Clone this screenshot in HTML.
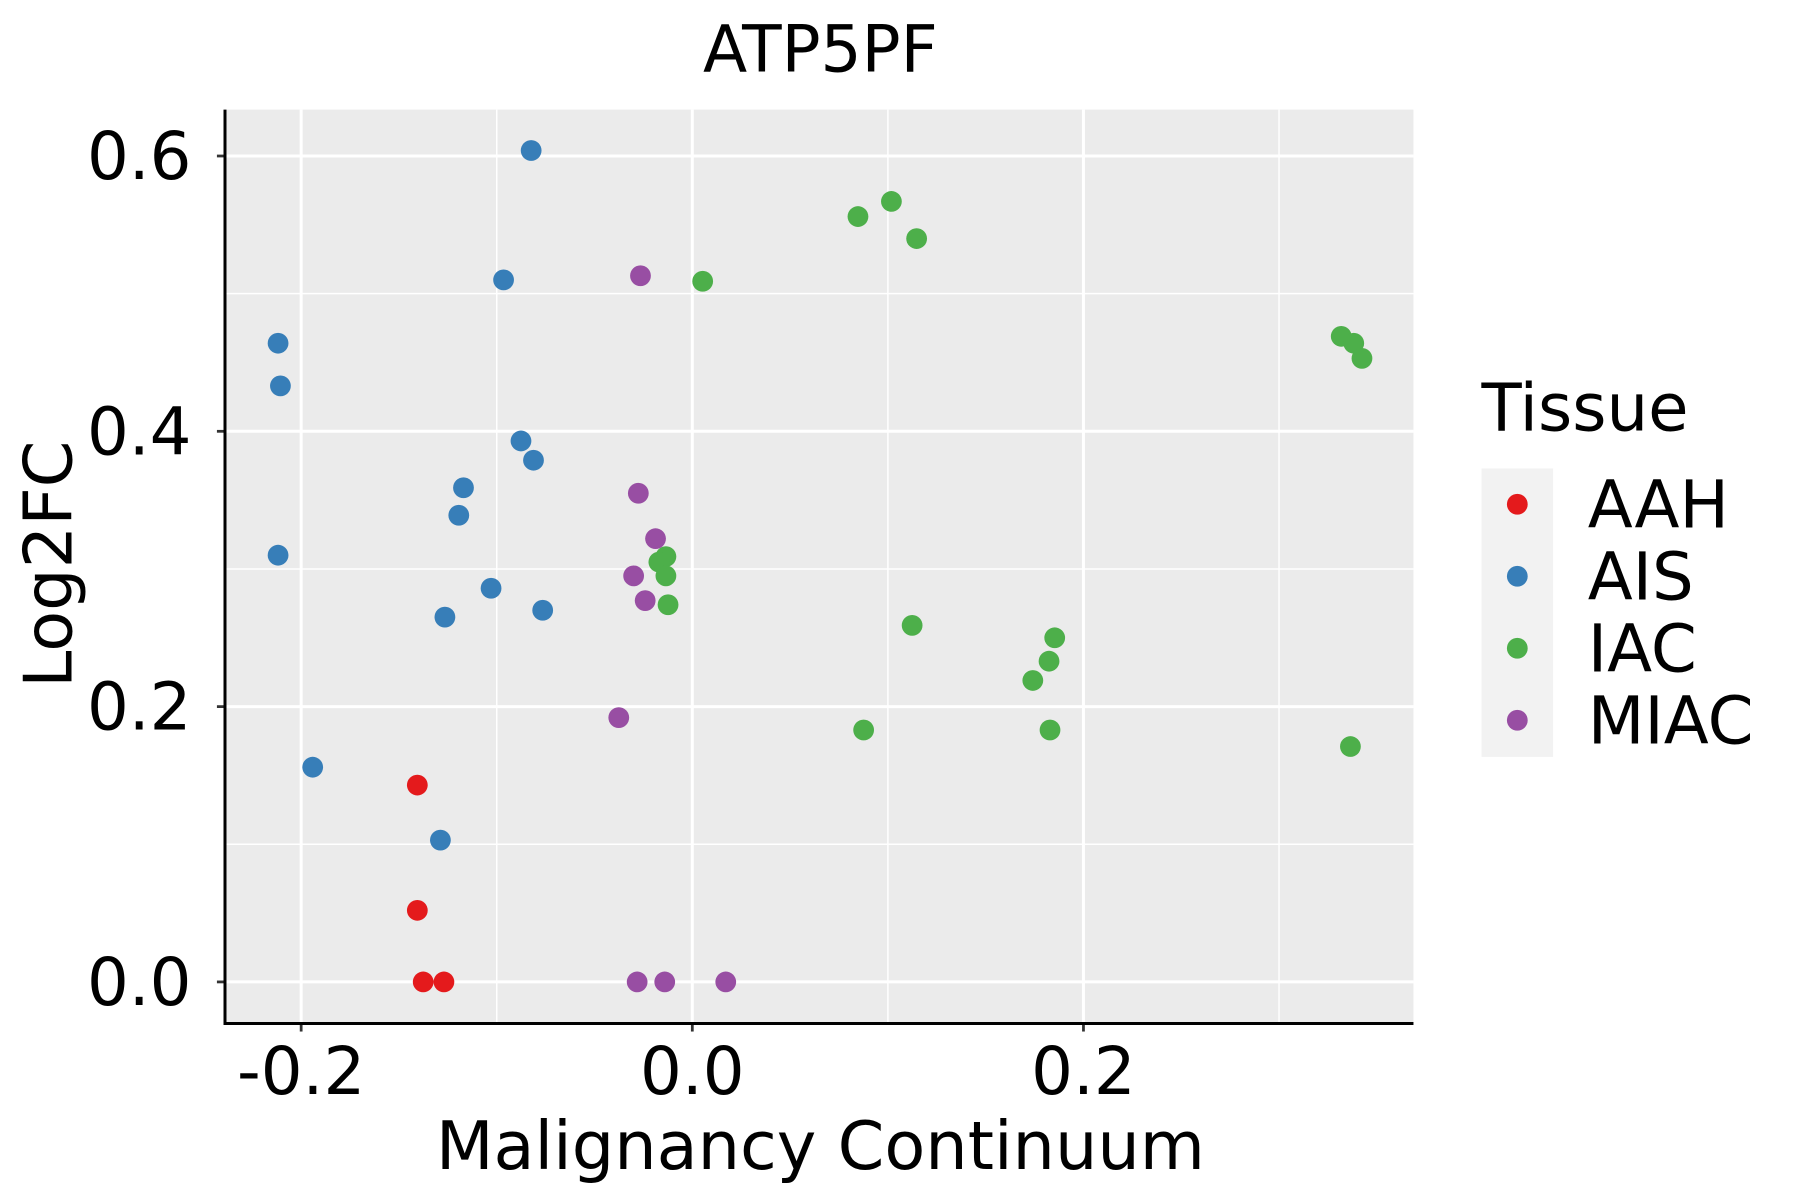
<!DOCTYPE html>
<html><head><meta charset="utf-8"><style>html,body{margin:0;padding:0;background:#fff}svg{display:block}text{font-family:"DejaVu Sans","Liberation Sans",sans-serif}</style></head>
<body>
<svg id="chart" width="1800" height="1200" viewBox="0 0 1560 1040" xmlns="http://www.w3.org/2000/svg">
<rect x="195" y="95" width="1030" height="792" fill="#ebebeb"/>
<g id="grid"></g><g id="pts"></g><g id="axes"></g>
<text x="711" y="62" font-size="56" text-anchor="middle">ATP5PF</text>
<text x="711" y="1013" font-size="58" text-anchor="middle">Malignancy Continuum</text>
<text transform="translate(62,489) rotate(-90)" font-size="58" text-anchor="middle">Log2FC</text>
<g>
<text x="1284" y="373" font-size="57">Tissue</text>
<rect x="1284" y="406" width="62" height="250" fill="#f2f2f2"/>
<g id="leg"></g></g>
</svg>
<script>
const groups=["AAH","AIS","IAC","MIAC"];
const colors=["#E41A1C","#377EB8","#4DAF4A","#984EA3"];
const aahX=[-0.1406,-0.1406,-0.1376,-0.127];
const aahY=[0.143,0.052,0,0];
const aisX=[-0.0824,-0.0965,-0.2118,-0.2106,-0.0876,-0.0812,-0.117,-0.1194,-0.2118,-0.1029,-0.1265,-0.0765,-0.1941,-0.1288];
const aisY=[0.604,0.510,0.464,0.433,0.393,0.379,0.359,0.339,0.310,0.286,0.265,0.270,0.156,0.103];
const iacX=[0.0847,0.1018,0.1147,0.0053,0.3318,0.3382,0.3424,-0.0135,-0.0171,-0.0135,-0.0124,0.1124,0.1853,0.1824,0.1741,0.0876,0.1829,0.3365];
const iacY=[0.556,0.567,0.540,0.509,0.469,0.464,0.453,0.309,0.305,0.295,0.274,0.259,0.250,0.233,0.219,0.183,0.183,0.171];
const miacX=[-0.0265,-0.0276,-0.0188,-0.03,-0.0241,-0.0376,-0.0282,-0.0141,0.0171];
const miacY=[0.513,0.355,0.322,0.295,0.277,0.192,0,0,0];
const xTicks=[-0.2,0.0,0.2];const xTickLabels=["-0.2","0.0","0.2"];
const yTicks=[0,0.2,0.4,0.6];const yTickLabels=["0.0","0.2","0.4","0.6"];
const xMinor=[-0.1,0.1,0.3];const yMinor=[0.1,0.3,0.5];
const NS="http://www.w3.org/2000/svg";
const sx=v=>600+v*1695, sy=v=>851-v*1193;
function mk(p,t,a){const e=document.createElementNS(NS,t);for(const k in a)e.setAttribute(k,a[k]);p.appendChild(e);return e;}
const grid=document.getElementById('grid'),axes=document.getElementById('axes'),pts=document.getElementById('pts'),leg=document.getElementById('leg');
xMinor.forEach(v=>{const l=mk(grid,'line',{x1:sx(v),x2:sx(v),y1:95,y2:887,stroke:'#fff','stroke-width':1.3});

});
yMinor.forEach(v=>{const l=mk(grid,'line',{x1:195,x2:1225,y1:sy(v),y2:sy(v),stroke:'#fff','stroke-width':1.3});

});
xTicks.forEach((v,i)=>{const l=mk(grid,'line',{x1:sx(v),x2:sx(v),y1:95,y2:887,stroke:'#fff','stroke-width':2.6});


const t=mk(axes,'line',{x1:sx(v),x2:sx(v),y1:887,y2:894,stroke:'#333','stroke-width':2.4});


const tx=mk(axes,'text',{x:sx(v),y:948,'font-size':57,'text-anchor':'middle',fill:'#000'});tx.textContent=xTickLabels[i];

});
yTicks.forEach((v,i)=>{const l=mk(grid,'line',{x1:195,x2:1225,y1:sy(v),y2:sy(v),stroke:'#fff','stroke-width':2.6});


const t=mk(axes,'line',{x1:188,x2:195,y1:sy(v),y2:sy(v),stroke:'#333','stroke-width':2.4});


const tx=mk(axes,'text',{x:166,y:sy(v)+20,'font-size':57,'text-anchor':'end',fill:'#000'});tx.textContent=yTickLabels[i];

});
const ax=mk(axes,'polyline',{points:'195,95 195,887 1225,887',fill:'none',stroke:'#000','stroke-width':2.6});


const series=[[aahX,aahY],[aisX,aisY],[iacX,iacY],[miacX,miacY]];
series.forEach((s,g)=>{s[0].forEach((x,i)=>{const c=mk(pts,'circle',{cx:sx(x),cy:sy(s[1][i]),r:9,fill:colors[g]});

});});
groups.forEach((g,i)=>{const y=437+i*62.4;
const c=mk(leg,'circle',{cx:1315,cy:y,r:9,fill:colors[i]});


const t=mk(leg,'text',{x:1376,y:y+20,'font-size':57});t.textContent=g;

});
</script>
</body></html>
